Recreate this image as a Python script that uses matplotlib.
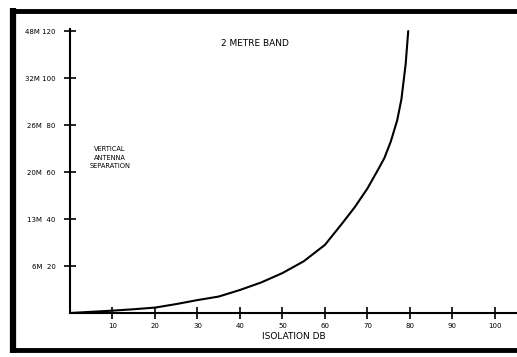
import matplotlib
matplotlib.use("Agg")
import matplotlib.pyplot as plt
from matplotlib.lines import Line2D

# curve
isolation_db = [0, 5, 10, 15, 20, 25, 30, 35, 40, 45, 50, 55, 60, 64, 67, 70,
                72.5, 74, 75.5, 77, 78, 79, 79.6]
separation = [0, 0.5, 1, 1.6, 2.3, 3.8, 5.5, 7, 9.8, 13, 17, 22, 29, 38, 45, 53,
              61, 66, 73, 82, 91, 106, 120]

x_ticks = [10, 20, 30, 40, 50, 60, 70, 80, 90, 100]
y_ticks = [20, 40, 60, 80, 100, 120]
y_tick_labels = ["6M  20", "13M  40", "20M  60", "26M  80", "32M 100", "48M 120"]

W, H = 517, 357
fig = plt.figure(figsize=(W / 100, H / 100), dpi=100)
fig.patch.set_facecolor("white")

ax = fig.add_axes([70 / W, 44 / H, 447 / W, 293 / H])
ax.plot(isolation_db, separation, color="black", lw=1.5,
        solid_capstyle="round", solid_joinstyle="round")

ax.set_xlim(0, 105.2)
ax.set_ylim(0, 124.7)

for side in ["top", "right"]:
    ax.spines[side].set_visible(False)
for side in ["left", "bottom"]:
    ax.spines[side].set_linewidth(1.5)
ax.spines["left"].set_bounds(0, 121)

font = dict(family="DejaVu Sans", size=5)
ax.set_xticks(x_ticks)
ax.set_xticklabels([str(t) for t in x_ticks], **font)
ax.set_yticks(y_ticks)
ax.set_yticklabels(y_tick_labels, **font)
ax.tick_params(axis="both", direction="inout", length=9, width=1.2, color="black")
ax.tick_params(axis="x", pad=3)
ax.tick_params(axis="y", pad=6)

ax.set_xlabel("ISOLATION DB", fontsize=6.5, family="DejaVu Sans", labelpad=2)

ax.text(43.5, 114.5, "2 METRE BAND", fontsize=6.5, family="DejaVu Sans",
        ha="center", va="center")
ax.text(9.4, 66, "VERTICAL\nANTENNA\nSEPARATION", fontsize=4.8,
        family="DejaVu Sans", ha="center", va="center", linespacing=1.5)

# thick border round the plate
fig.add_artist(Line2D([13 / W, 13 / W], [1 - 8 / H, 1 - 353 / H],
                      transform=fig.transFigure, color="black", lw=4.5,
                      solid_capstyle="butt"))
fig.add_artist(Line2D([10 / W, 1], [1 - 11 / H, 1 - 11 / H],
                      transform=fig.transFigure, color="black", lw=3.5,
                      solid_capstyle="butt"))
fig.add_artist(Line2D([10 / W, 1], [1 - 350 / H, 1 - 350 / H],
                      transform=fig.transFigure, color="black", lw=3.5,
                      solid_capstyle="butt"))

fig.savefig("out.png", dpi=100, facecolor="white")
